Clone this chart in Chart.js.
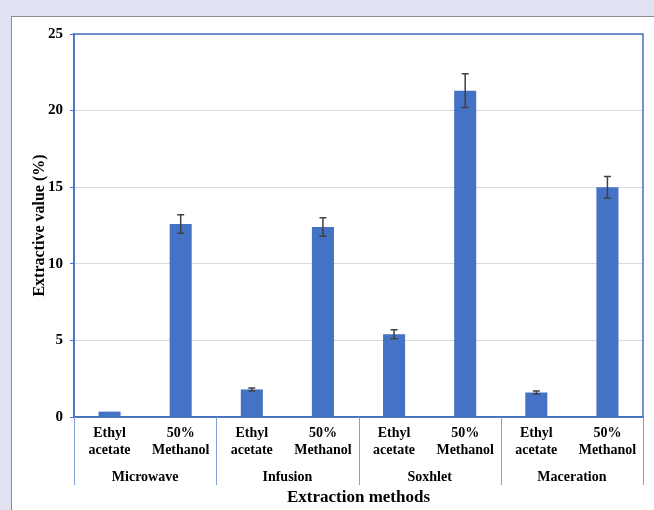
<!DOCTYPE html>
<html>
<head>
   <meta charset="UTF-8">
   <title>Extractive value by extraction method</title>
   <script src="https://cdn.jsdelivr.net/npm/chart.js"></script>
   <style>
       body {
           margin: 0;
           background: #dfe2f0;
           width: 654px;
           height: 510px;
           overflow: hidden;
       }
       .panel {
           position: absolute;
           left: 11px;
           top: 16px;
           width: 643px;
           height: 494px;
           background: #fff;
           border-left: 1px solid #8c8c8c;
           border-top: 1px solid #8c8c8c;
       }
       .chart-box {
           position: absolute;
           left: 0;
           top: 0;
           width: 642px;
           height: 493px;
       }
   </style>
</head>
<body>
   <div class="panel">
       <div class="chart-box">
           <canvas id="extractChart"></canvas>
       </div>
   </div>

   <script>
       // Solvent labels (two lines each), one per bar
       const solvents = [
           ['Ethyl', 'acetate'], ['50%', 'Methanol'],
           ['Ethyl', 'acetate'], ['50%', 'Methanol'],
           ['Ethyl', 'acetate'], ['50%', 'Methanol'],
           ['Ethyl', 'acetate'], ['50%', 'Methanol']
       ];
       const methods = ['Microwave', 'Infusion', 'Soxhlet', 'Maceration'];

       // Extractive value (%) and standard deviation
       const extractive = [0.35, 12.6, 1.8, 12.4, 5.4, 21.3, 1.6, 15.0];
       const deviation = [0, 0.6, 0.1, 0.6, 0.3, 1.1, 0.1, 0.7];

       const yTicks = [0, 5, 10, 15, 20, 25];

       const blue = '#4472c4';
       const serif = "'Liberation Serif', 'Times New Roman', serif";

       // Error bars on top of each bar
       const errorBars = {
           id: 'errorBars',
           afterDatasetsDraw(chart) {
               const ctx = chart.ctx;
               const y = chart.scales.y;
               const meta = chart.getDatasetMeta(0);
               ctx.save();
               ctx.strokeStyle = '#404040';
               ctx.lineWidth = 1.5;
               meta.data.forEach((bar, i) => {
                   const err = deviation[i];
                   if (!err) return;
                   const top = y.getPixelForValue(extractive[i] + err);
                   const bottom = y.getPixelForValue(extractive[i] - err);
                   ctx.beginPath();
                   ctx.moveTo(bar.x, top);
                   ctx.lineTo(bar.x, bottom);
                   ctx.moveTo(bar.x - 3.5, top);
                   ctx.lineTo(bar.x + 3.5, top);
                   ctx.moveTo(bar.x - 3.5, bottom);
                   ctx.lineTo(bar.x + 3.5, bottom);
                   ctx.stroke();
               });
               ctx.restore();
           }
       };

       // Plot frame and the group dividers under the x axis
       const frame = {
           id: 'frame',
           afterDraw(chart) {
               const ctx = chart.ctx;
               const area = chart.chartArea;
               const x = chart.scales.x;
               const groups = chart.scales.groups;
               ctx.save();
               ctx.lineWidth = 1.5;
               ctx.strokeStyle = blue;
               ctx.strokeRect(area.left, area.top, area.right - area.left, area.bottom - area.top);

               ctx.lineWidth = 1;
               ctx.strokeStyle = '#7f9fd6';
               [-0.5, 1.5, 3.5, 5.5, 7.5].forEach(v => {
                   const px = Math.round(x.getPixelForValue(v)) + 0.5;
                   ctx.beginPath();
                   ctx.moveTo(px, area.bottom);
                   ctx.lineTo(px, groups.top + 18);
                   ctx.stroke();
               });
               ctx.restore();
           }
       };

       const ctx = document.getElementById('extractChart').getContext('2d');
       new Chart(ctx, {
           type: 'bar',
           data: {
               labels: solvents,
               datasets: [{
                   data: extractive,
                   backgroundColor: blue,
                   borderWidth: 0,
                   categoryPercentage: 1,
                   barPercentage: 0.31
               }]
           },
           options: {
               responsive: true,
               maintainAspectRatio: false,
               animation: false,
               layout: {
                   padding: { top: 17, right: 11, left: 0, bottom: 0 }
               },
               plugins: {
                   legend: { display: false },
                   tooltip: { enabled: false }
               },
               scales: {
                   y: {
                       min: 0,
                       max: 25,
                       afterFit(scale) { scale.width = 62; },
                       afterBuildTicks(scale) {
                           scale.ticks = yTicks.map(v => ({ value: v }));
                       },
                       grid: {
                           color: '#d9d9d9',
                           tickColor: blue,
                           tickLength: 4
                       },
                       border: { color: blue, width: 1.5 },
                       ticks: {
                           padding: 7,
                           color: '#000',
                           font: { family: serif, size: 15, weight: 'bold' }
                       },
                       title: {
                           display: true,
                           text: 'Extractive value (%)',
                           color: '#000',
                           padding: { top: 18, bottom: 0 },
                           font: { family: serif, size: 16, weight: 'bold' }
                       }
                   },
                   x: {
                       afterFit(scale) { scale.height = 50; },
                       grid: { display: false, drawTicks: false },
                       border: { color: blue, width: 1.5 },
                       ticks: {
                           padding: 8,
                           maxRotation: 0,
                           autoSkip: false,
                           color: '#000',
                           font: { family: serif, size: 14, weight: 'bold', lineHeight: '17px' }
                       }
                   },
                   groups: {
                       type: 'category',
                       position: 'bottom',
                       labels: methods,
                       afterFit(scale) { scale.height = 43; },
                       grid: { display: false, drawTicks: false },
                       border: { display: false },
                       ticks: {
                           padding: 1.5,
                           maxRotation: 0,
                           autoSkip: false,
                           color: '#000',
                           font: { family: serif, size: 14, weight: 'bold', lineHeight: '17px' }
                       },
                       title: {
                           display: true,
                           text: 'Extraction methods',
                           color: '#000',
                           padding: { top: 0, bottom: 2.5 },
                           font: { family: serif, size: 17, weight: 'bold' }
                       }
                   }
               }
           },
           plugins: [errorBars, frame]
       });
   </script>
</body>
</html>
